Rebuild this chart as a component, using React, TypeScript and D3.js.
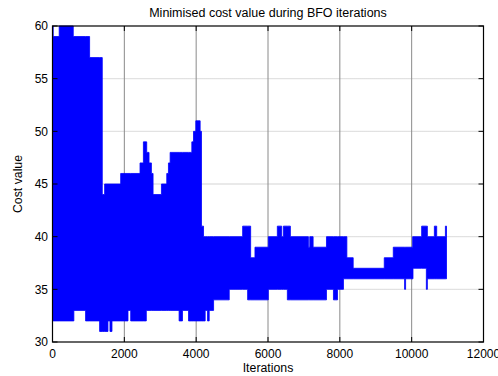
import React from "react";
import * as d3 from "d3";

// Step envelope of the (rapidly oscillating) cost curve.
// Each value holds from its iteration until the next breakpoint.
const upperIter = [0, 20, 187, 578, 1033, 1386, 1451, 1898, 2437, 2531, 2623, 2688, 2754, 2800, 3033, 3181, 3228, 3275, 3879, 3926, 3990, 4111, 4148, 4205, 5294, 5517, 5637, 6009, 6260, 6381, 6428, 6623, 7125, 7163, 7256, 7628, 8196, 8372, 9237, 9488, 10027, 10278, 10437, 10632, 10697, 10939];
const upperVal = [60, 59, 60, 59, 57, 44, 45, 46, 47, 49, 48, 47, 46, 44, 45, 46, 47, 48, 49, 50, 51, 50, 41, 40, 41, 38, 39, 40, 41, 40, 41, 40, 39, 40, 39, 40, 38, 37, 38, 39, 40, 41, 40, 41, 40, 41];
const lowerIter = [0, 595, 921, 1312, 1544, 1600, 1656, 2102, 2177, 2612, 3525, 3619, 3787, 4251, 4316, 4363, 4485, 4921, 5433, 6009, 6539, 7628, 7822, 7935, 8101, 9803, 9831, 10037, 10409, 10437];
const lowerVal = [32, 33, 32, 31, 32, 31, 32, 33, 32, 33, 32, 33, 32, 33, 32, 33, 34, 35, 34, 35, 34, 35, 34, 35, 36, 35, 36, 37, 35, 36];
const lastIter = 10970;

const xTicks = [0, 2000, 4000, 6000, 8000, 10000, 12000];
const yTicks = [30, 35, 40, 45, 50, 55, 60];

const W = 498;
const H = 376;
const L = 52.5, R = 483.5, T = 26, B = 342;
const FONT = "'Liberation Sans', Arial, Helvetica, sans-serif";

export default function App() {
  const x = d3.scaleLinear().domain([0, 12000]).range([L, R]);
  const y = d3.scaleLinear().domain([30, 60]).range([B, T]);

  const valAt = (iters: number[], vals: number[], it: number) =>
    vals[Math.max(0, d3.bisectRight(iters, it) - 1)];

  const xs = Array.from(new Set([...upperIter, ...lowerIter, lastIter])).sort((a, b) => a - b);
  const pts = xs.map((it, i) => {
    const src = i === xs.length - 1 ? xs[i - 1] : it;
    return { it, up: valAt(upperIter, upperVal, src), lo: valAt(lowerIter, lowerVal, src) };
  });

  const area = d3
    .area<{ it: number; up: number; lo: number }>()
    .x((d) => x(d.it))
    .y0((d) => y(d.lo))
    .y1((d) => y(d.up))
    .curve(d3.curveStepAfter);

  const tickLen = 5;

  return (
    <svg
      width={W}
      height={H}
      style={{ position: "absolute", left: 0, top: 0, background: "#fff" }}
      fontFamily={FONT}
    >
      <rect x={0} y={0} width={W} height={H} fill="#fff" />
      {/* grid */}
      {yTicks.slice(1, -1).map((t) => (
        <line key={"gy" + t} x1={L} x2={R} y1={y(t)} y2={y(t)} stroke="#c4c4c4" strokeWidth={1.3} strokeDasharray="1 1" />
      ))}
      {xTicks.slice(1, -1).map((t) => (
        <line key={"gx" + t} x1={x(t)} x2={x(t)} y1={T} y2={B} stroke="#8a8a8a" strokeWidth={1} />
      ))}
      {/* data */}
      <path d={area(pts) || ""} fill="#0000ff" stroke="#0000ff" strokeWidth={0.8} />
      {/* axes box */}
      <rect x={L} y={T} width={R - L} height={B - T} fill="none" stroke="#000" strokeWidth={1.2} />
      {xTicks.map((t) => (
        <g key={"tx" + t}>
          <line x1={x(t)} x2={x(t)} y1={B} y2={B - tickLen} stroke="#000" />
          <line x1={x(t)} x2={x(t)} y1={T} y2={T + tickLen} stroke="#000" />
          <text x={x(t)} y={358} textAnchor="middle" fontSize={12} fill="#000">
            {t}
          </text>
        </g>
      ))}
      {yTicks.map((t) => (
        <g key={"ty" + t}>
          <line x1={L} x2={L + tickLen} y1={y(t)} y2={y(t)} stroke="#000" />
          <line x1={R} x2={R - tickLen} y1={y(t)} y2={y(t)} stroke="#000" />
          <text x={48} y={y(t)} dy="0.35em" textAnchor="end" fontSize={12} fill="#000">
            {t}
          </text>
        </g>
      ))}
      <text x={(L + R) / 2} y={17} textAnchor="middle" fontSize={12.5} fill="#000">
        Minimised cost value during BFO iterations
      </text>
      <text x={(L + R) / 2} y={372} textAnchor="middle" fontSize={12.3} fill="#000">
        Iterations
      </text>
      <text
        transform={`translate(22,${(T + B) / 2}) rotate(-90)`}
        textAnchor="middle"
        fontSize={12.3}
        fill="#000"
      >
        Cost value
      </text>
    </svg>
  );
}
